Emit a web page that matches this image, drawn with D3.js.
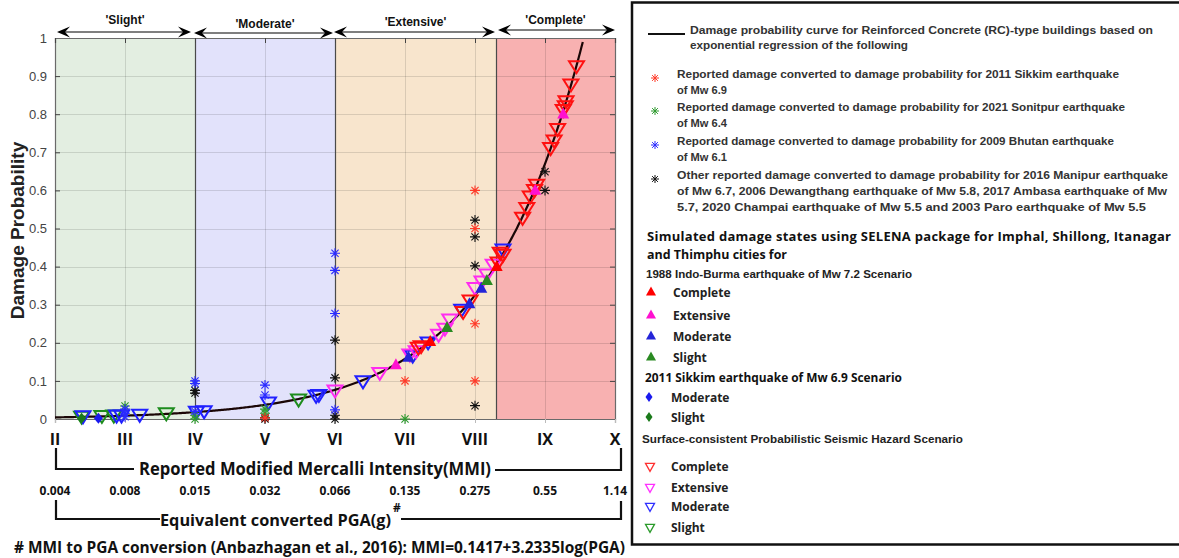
<!DOCTYPE html>
<html>
<head>
<meta charset="utf-8">
<script src="https://cdn.jsdelivr.net/npm/d3@7"></script>
<style>
  html, body { margin: 0; padding: 0; background: #fff; }
  svg { display: block; }
  text { font-family: "Liberation Sans", Arial, sans-serif; }
  .cal { font-family: "Open Sans", "Noto Sans", sans-serif; font-weight: 700; }
</style>
</head>
<body>
<svg id="chart" width="1179" height="558"></svg>
<script>
// ---- axis labels and ticks ----
const mmiValues = [2, 3, 4, 5, 6, 7, 8, 9, 10];
const mmiLabels = ["II", "III", "IV", "V", "VI", "VII", "VIII", "IX", "X"];
const pgaLabels = ["0.004", "0.008", "0.015", "0.032", "0.066", "0.135", "0.275", "0.55", "1.14"];
const probTicks = [0, 0.1, 0.2, 0.3, 0.4, 0.5, 0.6, 0.7, 0.8, 0.9, 1];

// ---- damage-state zones along the MMI axis ----
const zoneNames = ["'Slight'", "'Moderate'", "'Extensive'", "'Complete'"];
const zoneFrom = [2, 4, 6, 8.3];
const zoneTo = [4, 6, 8.3, 10];
const zoneFill = ["#e3eee1", "#e2e2fb", "#f8e5cd", "#f8b1b1"];

// ---- exponential regression: P = A * exp(B * MMI) ----
const curveA = 0.001;
const curveB = 0.723;

// ---- reported damage (asterisks) ----
const sikkimMMI = [8, 8, 8, 8, 7, 5];
const sikkimP = [0.6, 0.5, 0.25, 0.1, 0.1, 0.003];
const sonitpurMMI = [3, 4, 4, 5, 5, 7];
const sonitpurP = [0.034, 0.0, 0.01, 0.026, 0.015, 0.0];
const bhutanMMI = [3, 3, 3, 4, 4, 4, 5, 5, 6, 6, 6, 6];
const bhutanP = [0.026, 0.015, 0.006, 0.1, 0.093, 0.02, 0.089, 0.063, 0.435, 0.39, 0.277, 0.024];
const otherMMI = [4, 4, 5, 5, 6, 6, 6, 6, 8, 8, 8, 8, 9, 9];
const otherP = [0.075, 0.068, 0.004, 0.0, 0.207, 0.108, 0.01, 0.0, 0.522, 0.478, 0.402, 0.035, 0.649, 0.6];

// ---- 1988 Indo-Burma scenario (filled triangles) ----
const ibCompleteMMI = [7.36, 8.31];
const ibCompleteP = [0.203, 0.40];
const ibExtensiveMMI = [6.87, 8.86, 9.26];
const ibExtensiveP = [0.142, 0.60, 0.80];
const ibModerateMMI = [7.05, 7.92, 8.09];
const ibModerateP = [0.162, 0.302, 0.343];
const ibSlightMMI = [7.6, 8.17];
const ibSlightP = [0.24, 0.363];

// ---- 2011 Sikkim scenario (diamonds) ----
const skModerateMMI = [2.62];
const skModerateP = [0.002];
const skSlightMMI = [2.38];
const skSlightP = [0.002];

// ---- PSHA scenario (open down triangles) ----
const psCompleteMMI = [7.19, 7.23, 7.83, 7.93, 8.33, 8.40, 8.36, 8.68, 8.74, 8.79, 8.85, 8.88, 9.08, 9.13, 9.18, 9.26, 9.29, 9.30, 9.37, 9.45];
const psCompleteP = [0.186, 0.19, 0.28, 0.31, 0.41, 0.43, 0.435, 0.527, 0.553, 0.583, 0.60, 0.614, 0.71, 0.73, 0.76, 0.81, 0.82, 0.833, 0.877, 0.925];
const psExtensiveMMI = [6.0, 6.64, 7.07, 7.16, 7.48, 7.57, 7.64, 8.0, 8.10, 8.17, 8.26];
const psExtensiveP = [0.074, 0.12, 0.168, 0.177, 0.22, 0.236, 0.26, 0.343, 0.36, 0.378, 0.404];
const psModerateMMI = [2.40, 2.88, 2.95, 3.21, 4.02, 4.13, 5.05, 5.73, 5.77, 6.40, 7.11, 7.33, 7.81, 8.40];
const psModerateP = [0.006, 0.008, 0.008, 0.01, 0.018, 0.019, 0.042, 0.06, 0.062, 0.098, 0.165, 0.2, 0.286, 0.444];
const psSlightMMI = [2.38, 2.67, 2.84, 3.59, 5.48];
const psSlightP = [0.005, 0.007, 0.008, 0.014, 0.05];

// ---- layout ----
const svg = d3.select("#chart");
const plot = { left: 55, right: 615, top: 38, bottom: 419 };
const x = d3.scaleLinear().domain([2, 10]).range([plot.left, plot.right]);
const y = d3.scaleLinear().domain([0, 1]).range([plot.bottom, plot.top]);

svg.append("rect").attr("width", 1179).attr("height", 558).attr("fill", "#fff");

// zone backgrounds
svg.append("g").selectAll("rect").data(zoneNames).join("rect")
  .attr("x", (d, i) => x(zoneFrom[i]))
  .attr("y", plot.top)
  .attr("width", (d, i) => x(zoneTo[i]) - x(zoneFrom[i]))
  .attr("height", plot.bottom - plot.top)
  .attr("fill", (d, i) => zoneFill[i]);

// grid
const grid = svg.append("g").attr("stroke", "#000").attr("stroke-opacity", 0.12).attr("stroke-width", 1);
grid.selectAll("line.h").data(probTicks.slice(1, -1)).join("line")
  .attr("x1", plot.left).attr("x2", plot.right)
  .attr("y1", d => Math.round(y(d)) + 0.5).attr("y2", d => Math.round(y(d)) + 0.5);
grid.selectAll("line.v").data(mmiValues.slice(1, -1)).join("line")
  .attr("y1", plot.top).attr("y2", plot.bottom)
  .attr("x1", d => Math.round(x(d)) + 0.5).attr("x2", d => Math.round(x(d)) + 0.5);

// zone boundaries
svg.append("g").selectAll("line").data(zoneFrom.slice(1)).join("line")
  .attr("x1", d => Math.round(x(d)) + 0.5).attr("x2", d => Math.round(x(d)) + 0.5)
  .attr("y1", plot.top).attr("y2", plot.bottom)
  .attr("stroke", "#4a4a4a").attr("stroke-width", 1.2);

// axes (ticks inward, as a framed box)
const axL = svg.append("g").attr("transform", `translate(${plot.left},0)`)
  .call(d3.axisLeft(y).tickValues(probTicks).tickSize(-5).tickPadding(8).tickFormat(d3.format("~g")));
const axR = svg.append("g").attr("transform", `translate(${plot.right},0)`)
  .call(d3.axisRight(y).tickValues(probTicks).tickSize(-5).tickFormat(""));
const axT = svg.append("g").attr("transform", `translate(0,${plot.top})`)
  .call(d3.axisTop(x).tickValues(mmiValues).tickSize(-5).tickFormat(""));
const axB = svg.append("g").attr("transform", `translate(0,${plot.bottom})`)
  .call(d3.axisBottom(x).tickValues(mmiValues).tickSize(4).tickFormat(""));
[axL, axR, axT, axB].forEach(a => {
  a.select(".domain").attr("stroke", "#6a6a6a").attr("stroke-width", 1.2);
  a.selectAll(".tick line").attr("stroke", "#444");
});
axB.selectAll(".tick line").attr("stroke", "#bbb");
axL.selectAll(".tick text").attr("fill", "#444").attr("font-size", 13)
  .attr("font-family", "'Liberation Sans', Arial, sans-serif");

// y-axis title
svg.append("text")
  .attr("transform", `translate(24,${(plot.top + plot.bottom) / 2 + 2}) rotate(-90)`)
  .attr("text-anchor", "middle").attr("font-size", 19).attr("font-weight", 700)
  .attr("fill", "#222").text("Damage Probability");

// regression curve
const curvePts = d3.range(2, 10.0001, 0.02)
  .map(m => [m, curveA * Math.exp(curveB * m)])
  .filter(d => d[1] <= 1.0);
svg.append("path").datum(curvePts)
  .attr("fill", "none").attr("stroke", "#1a0606").attr("stroke-width", 2.2)
  .attr("d", d3.line().x(d => x(d[0])).y(d => y(d[1])));

// marker shapes
function asterisk(r) {
  const k = r * 0.72;
  return `M${-r},0H${r}M0,${-r}V${r}M${-k},${-k}L${k},${k}M${-k},${k}L${k},${-k}`;
}
function triUp(w, h) { return `M0,${-h * 0.6}L${w / 2},${h * 0.4}L${-w / 2},${h * 0.4}Z`; }
function triDown(w, h) { return `M${-w / 2},${-h * 0.45}L${w / 2},${-h * 0.45}L0,${h * 0.55}Z`; }
function diamond(w, h) { return `M0,${-h / 2}L${w / 2},0L0,${h / 2}L${-w / 2},0Z`; }

const marks = svg.append("g");
function drawSeries(mmi, p, shape, style) {
  const g = marks.append("g");
  g.selectAll("path").data(mmi.map((m, i) => [m, p[i]])).join("path")
    .attr("transform", d => `translate(${x(d[0])},${y(d[1])})`)
    .attr("d", shape)
    .attr("fill", style.fill || "none")
    .attr("stroke", style.stroke || "none")
    .attr("stroke-width", style.sw || 1);
}

// open triangles (PSHA) first, then filled markers and asterisks on top
const openTri = triDown(15, 12);
drawSeries(psSlightMMI, psSlightP, openTri, { stroke: "#1d8c1d", sw: 2 });
drawSeries(psModerateMMI, psModerateP, openTri, { stroke: "#2020ff", sw: 2 });
drawSeries(psExtensiveMMI, psExtensiveP, openTri, { stroke: "#ff2cf0", sw: 2 });
drawSeries(psCompleteMMI, psCompleteP, openTri, { stroke: "#ff1010", sw: 2 });

const fillTri = triUp(12, 11);
drawSeries(ibCompleteMMI, ibCompleteP, fillTri, { fill: "#ff0000" });
drawSeries(ibExtensiveMMI, ibExtensiveP, fillTri, { fill: "#ff10d0" });
drawSeries(ibModerateMMI, ibModerateP, fillTri, { fill: "#2424d8" });
drawSeries(ibSlightMMI, ibSlightP, fillTri, { fill: "#2a8a22" });

const dia = diamond(9, 11);
drawSeries(skSlightMMI, skSlightP, dia, { fill: "#1a7a1a" });
drawSeries(skModerateMMI, skModerateP, dia, { fill: "#1a1aee" });

const star = asterisk(5);
drawSeries(otherMMI, otherP, star, { stroke: "#111", sw: 1.1 });
drawSeries(sonitpurMMI, sonitpurP, star, { stroke: "#2e9a2e", sw: 1.1 });
drawSeries(bhutanMMI, bhutanP, star, { stroke: "#2b2bff", sw: 1.1 });
drawSeries(sikkimMMI, sikkimP, star, { stroke: "#ff3a28", sw: 1.1 });

// zone arrows above the plot
function headRight(xt, yt) { return `M${xt},${yt}L${xt - 13},${yt - 5.5}L${xt - 8},${yt}L${xt - 13},${yt + 5.5}Z`; }
function headLeft(xt, yt) { return `M${xt},${yt}L${xt + 13},${yt - 5.5}L${xt + 8},${yt}L${xt + 13},${yt + 5.5}Z`; }
const arrowY = [32, 33, 32, 30];
const arrowPad = [[2, -4], [-1, -2], [-1, -1], [2, 0]];
const labelY = [24, 28, 26, 24];
const arrows = svg.append("g");
zoneNames.forEach((name, i) => {
  const x0 = x(zoneFrom[i]) + arrowPad[i][0];
  const x1 = x(zoneTo[i]) + arrowPad[i][1];
  const ay = arrowY[i];
  arrows.append("line").attr("x1", x0 + 8).attr("x2", x1 - 8).attr("y1", ay).attr("y2", ay)
    .attr("stroke", "#555").attr("stroke-width", 1.6);
  arrows.append("path").attr("d", headLeft(x0, ay)).attr("fill", "#000");
  arrows.append("path").attr("d", headRight(x1, ay)).attr("fill", "#000");
  arrows.append("text").attr("x", (x(zoneFrom[i]) + x(zoneTo[i])) / 2).attr("y", labelY[i])
    .attr("text-anchor", "middle").attr("font-size", 12).attr("font-weight", 700)
    .attr("fill", "#111").text(name);
});

// MMI and PGA labels beneath the plot
const below = svg.append("g");
below.selectAll("text.mmi").data(mmiValues).join("text")
  .attr("class", "cal")
  .attr("x", d => x(d)).attr("y", 445)
  .attr("text-anchor", "middle").attr("font-size", 16).attr("fill", "#111")
  .text((d, i) => mmiLabels[i]);
below.selectAll("text.pga").data(mmiValues).join("text")
  .attr("class", "cal")
  .attr("x", d => x(d)).attr("y", 495)
  .attr("text-anchor", "middle").attr("font-size", 12).attr("fill", "#111")
  .text((d, i) => pgaLabels[i]);

// bracket lines
const br = below.append("g").attr("stroke", "#111").attr("stroke-width", 2.2).attr("fill", "none");
br.append("path").attr("d", `M${x(2) + 1},448V469H134`);
br.append("path").attr("d", `M495,470H621V448`);
br.append("path").attr("d", `M${x(2) + 1},500V519H160`);
br.append("path").attr("d", `M401,519H621V501`);

below.append("text").attr("class", "cal").attr("x", 139).attr("y", 475)
  .attr("font-size", 17).attr("fill", "#111")
  .attr("textLength", 352).attr("lengthAdjust", "spacingAndGlyphs")
  .text("Reported Modified Mercalli Intensity(MMI)");

below.append("text").attr("class", "cal").attr("x", 160).attr("y", 526)
  .attr("font-size", 16.3).attr("fill", "#111")
  .text("Equivalent converted PGA(g)");
below.append("text").attr("class", "cal").attr("x", 393).attr("y", 512)
  .attr("font-size", 12).attr("fill", "#111").text("#");

below.append("text").attr("class", "cal").attr("x", 14).attr("y", 553)
  .attr("font-size", 15.5).attr("fill", "#111")
  .attr("textLength", 611).attr("lengthAdjust", "spacingAndGlyphs")
  .text("# MMI to PGA conversion (Anbazhagan et al., 2016): MMI=0.1417+3.2335log(PGA)");

// ---- legend ----
const lg = svg.append("g");
lg.append("rect").attr("x", 632).attr("y", 2.5).attr("width", 560).attr("height", 542)
  .attr("fill", "#fff").attr("stroke", "#111").attr("stroke-width", 2.5);

lg.append("line").attr("x1", 648).attr("x2", 685).attr("y1", 34).attr("y2", 34)
  .attr("stroke", "#111").attr("stroke-width", 2);

function lgText(tx, ty, str, opts = {}) {
  const t = lg.append("text").attr("x", tx).attr("y", ty)
    .attr("font-size", opts.size || 11).attr("font-weight", opts.weight || 700)
    .attr("fill", opts.fill || "#333").text(str);
  if (opts.cls) t.attr("class", opts.cls);
  if (opts.len) t.attr("textLength", opts.len).attr("lengthAdjust", opts.adj || "spacingAndGlyphs");
  return t;
}

lgText(690, 34, "Damage probability curve for Reinforced Concrete (RC)-type buildings based on", { len: 463 });
lgText(690, 49, "exponential regression of the following", { len: 218 });

const reportedColors = ["#ff3a28", "#2e9a2e", "#2b2bff", "#111"];
const reportedY = [77, 110, 144, 178];
const reportedLines = [
  ["Reported damage converted to damage probability for 2011 Sikkim earthquake", "of Mw 6.9"],
  ["Reported damage converted to damage probability for  2021 Sonitpur earthquake", "of Mw 6.4"],
  ["Reported damage converted to damage probability for 2009 Bhutan earthquake", "of Mw 6.1"],
  ["Other reported damage converted to damage probability for 2016 Manipur earthquake",
   "of Mw 6.7, 2006 Dewangthang earthquake of Mw 5.8, 2017 Ambasa earthquake of Mw",
   "5.7, 2020 Champai earthquake of Mw 5.5 and 2003 Paro earthquake of Mw 5.5"]
];
const reportedLens = [[442, 50], [448, 50], [437, 50], [491, 490, 469]];
reportedLines.forEach((lines, i) => {
  lg.append("path").attr("transform", `translate(655,${reportedY[i] + 1})`)
    .attr("d", asterisk(4)).attr("stroke", reportedColors[i]).attr("stroke-width", 1);
  lines.forEach((s, j) => lgText(677, reportedY[i] + 1 + j * 16, s, { len: reportedLens[i][j] }));
});

lgText(647, 241, "Simulated damage states using SELENA package for Imphal, Shillong, Itanagar",
  { cls: "cal", size: 13, fill: "#111", len: 524, adj: "spacing" });
lgText(647, 259, "and Thimphu cities for", { cls: "cal", size: 13, fill: "#111", len: 140 });

lgText(646, 278, "1988 Indo-Burma earthquake of Mw 7.2 Scenario", { size: 11.5, fill: "#222", len: 266 });
const stateNames = ["Complete", "Extensive", "Moderate", "Slight"];
const ibColors = ["#ff0000", "#ff10d0", "#2424d8", "#2a8a22"];
const ibY = [292, 315, 336, 357];
stateNames.forEach((s, i) => {
  lg.append("path").attr("transform", `translate(651,${ibY[i]})`).attr("d", triUp(10, 9)).attr("fill", ibColors[i]);
  lgText(673, ibY[i] + 4.5, s, { cls: "cal", size: 12, fill: "#222" });
});

lgText(645, 382, "2011 Sikkim earthquake of Mw 6.9 Scenario", { cls: "cal", size: 13, fill: "#111", len: 257 });
const skNames = ["Moderate", "Slight"];
const skColors = ["#1a1aee", "#1a7a1a"];
const skY = [397, 417];
skNames.forEach((s, i) => {
  lg.append("path").attr("transform", `translate(649,${skY[i]})`).attr("d", diamond(7, 10)).attr("fill", skColors[i]);
  lgText(671, skY[i] + 4.5, s, { cls: "cal", size: 12, fill: "#222" });
});

lgText(642, 443, "Surface-consistent Probabilistic Seismic Hazard Scenario", { size: 11.5, fill: "#222", len: 321 });
const psColors = ["#ff3030", "#ff30ff", "#3030ff", "#2a9a2a"];
const psY = [467, 488, 507, 528];
stateNames.forEach((s, i) => {
  lg.append("path").attr("transform", `translate(650,${psY[i]})`).attr("d", triDown(9, 8))
    .attr("fill", "none").attr("stroke", psColors[i]).attr("stroke-width", 1.3);
  lgText(671, psY[i] + 4, s, { cls: "cal", size: 12, fill: "#222" });
});
</script>
</body>
</html>
